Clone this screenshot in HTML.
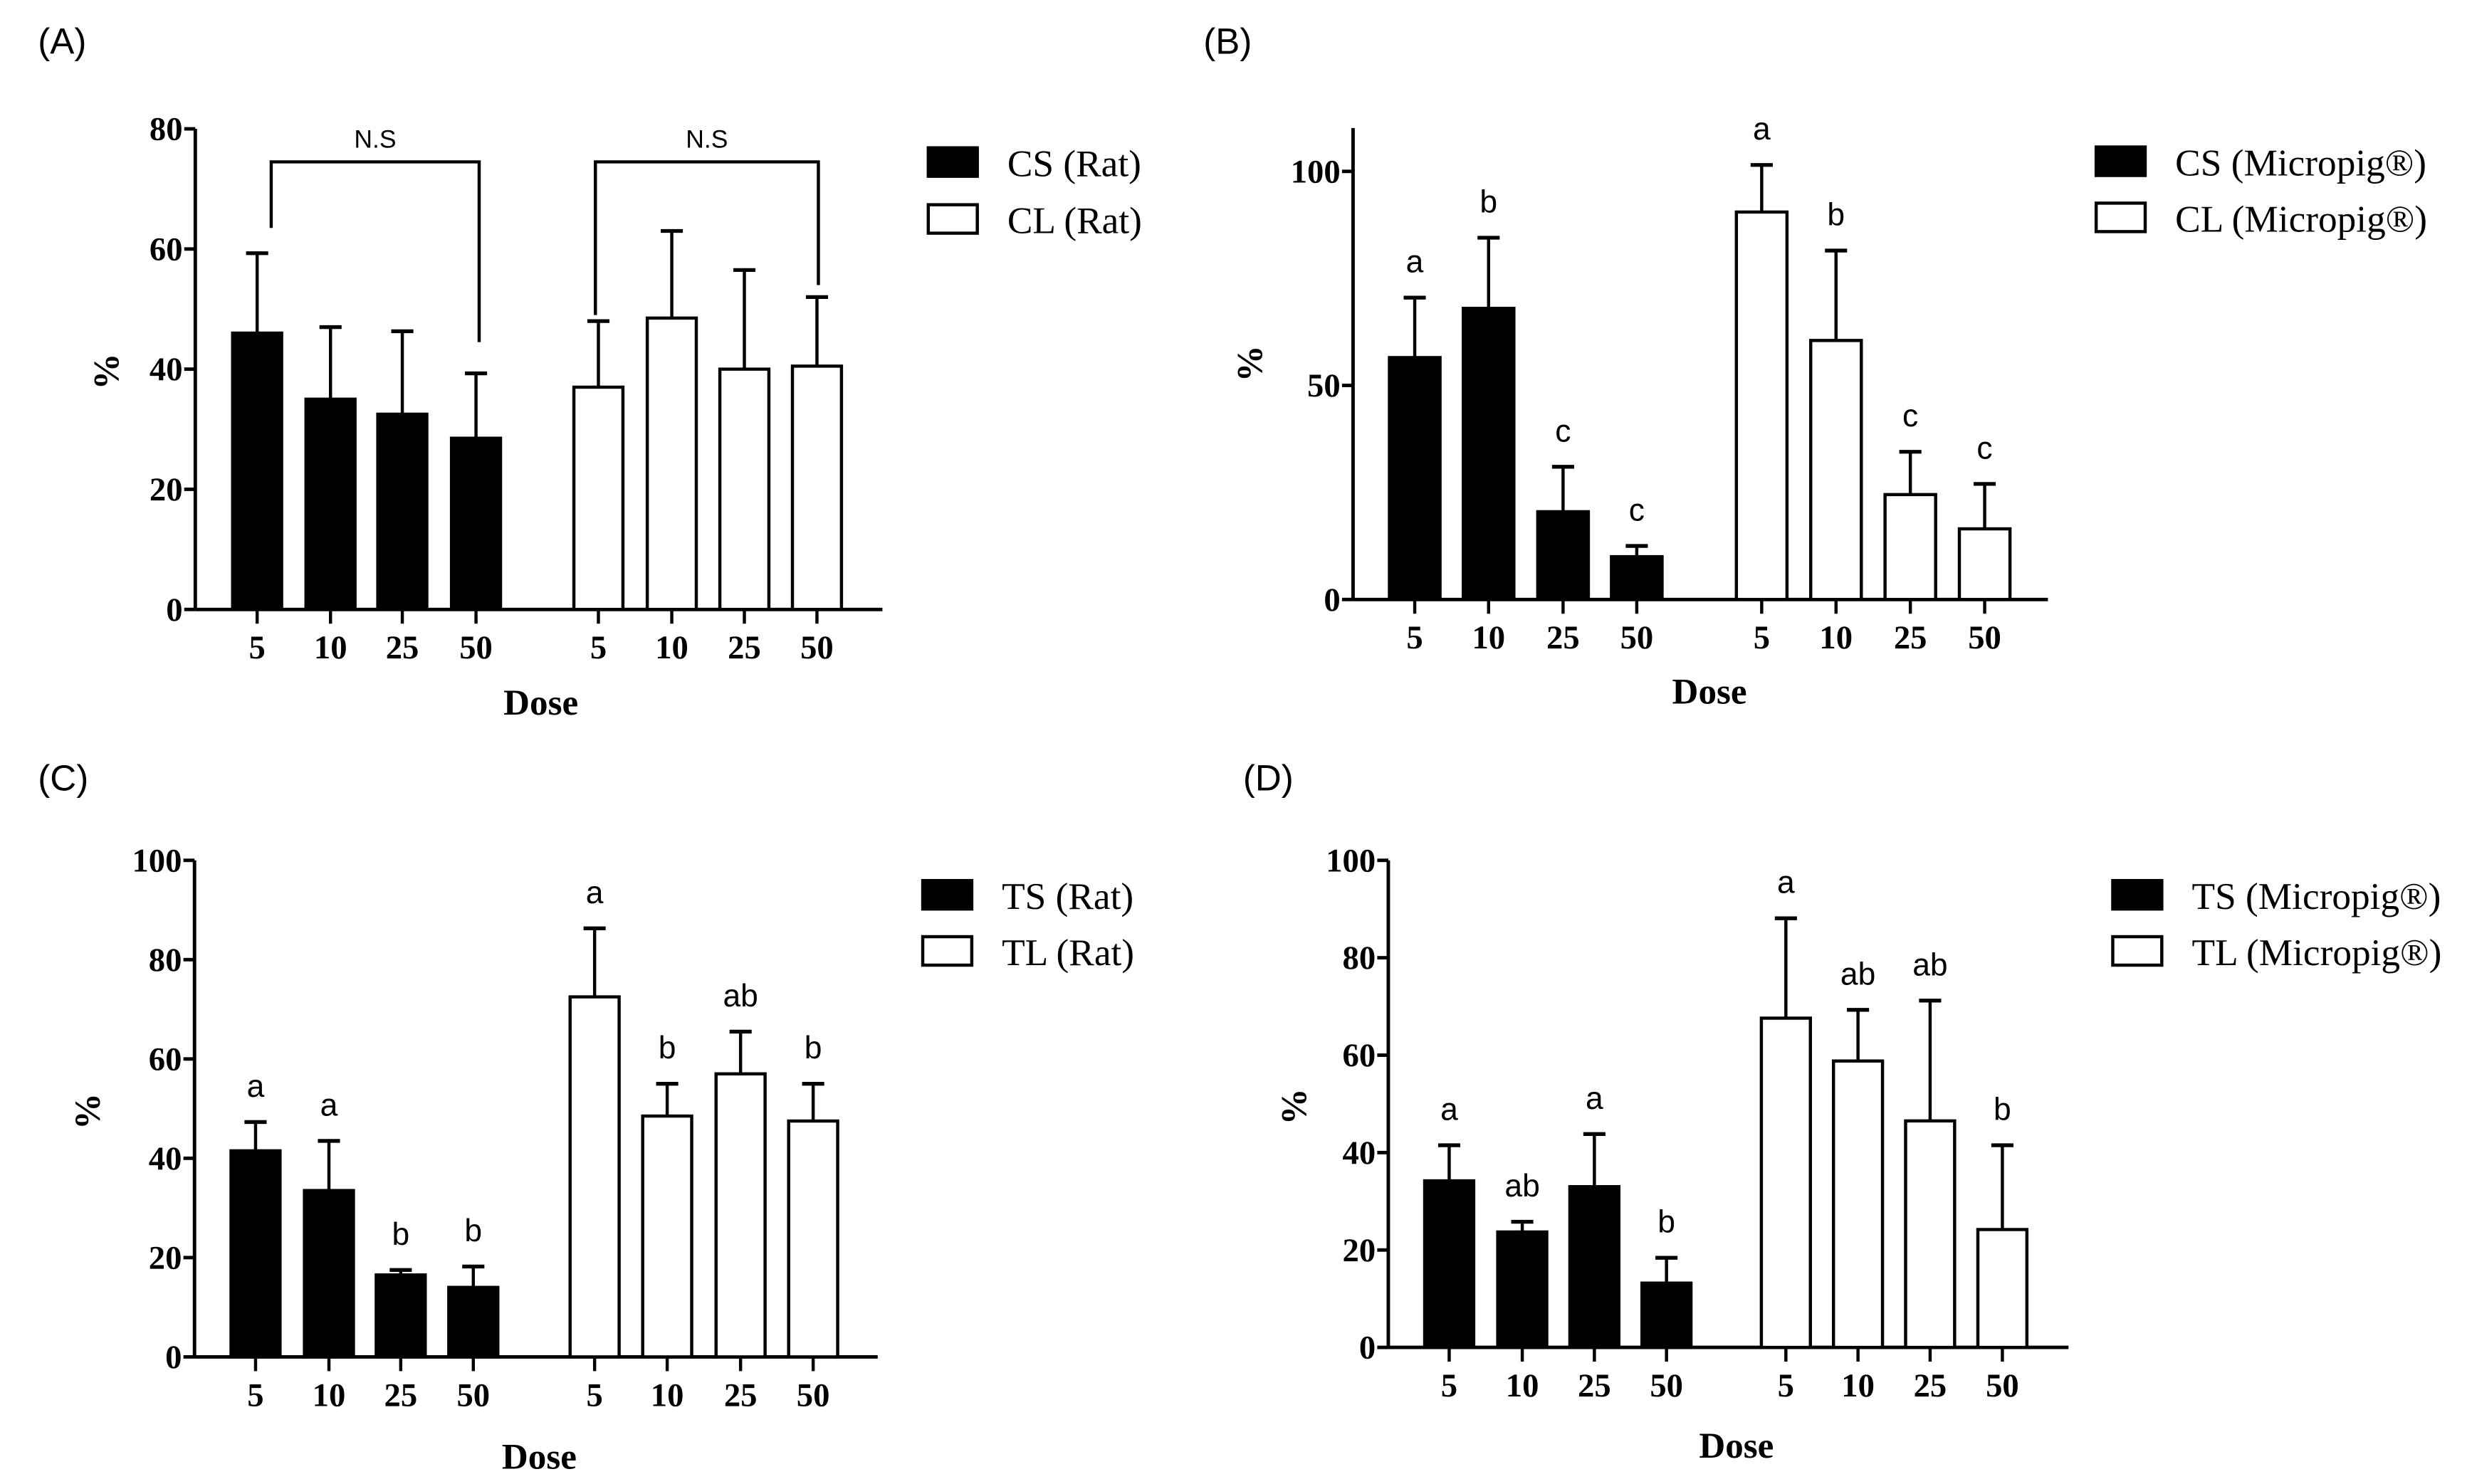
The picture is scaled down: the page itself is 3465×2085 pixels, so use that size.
<!DOCTYPE html>
<html><head><meta charset="utf-8"><style>
html,body{margin:0;padding:0;background:#fff;}
svg{display:block;}
</style></head><body>
<svg id="fig" width="3465" height="2085" viewBox="0 0 1560 938.7" preserveAspectRatio="none" xmlns="http://www.w3.org/2000/svg"></svg>
<script>
// Panel A data
const doses = ["5","10","25","50"];
const aSolid = [46, 35, 32.5, 28.5];
const aSolidErr = [59.3, 47, 46.3, 39.3];
const aOpen = [37, 48.5, 40, 40.5];
const aOpenErr = [48, 63, 56.5, 52];
const aTicks = [0, 20, 40, 60, 80];
// Panel B data
const bSolid = [56.5, 68, 20.5, 10];
const bSolidErr = [70.5, 84.5, 31, 12.5];
const bOpen = [90.5, 60.5, 24.5, 16.5];
const bOpenErr = [101.5, 81.5, 34.5, 27];
const bSolidLetters = ["a","b","c","c"];
const bOpenLetters = ["a","b","c","c"];
const bTicks = [0, 50, 100];
// Panel C data
const cSolid = [41.5, 33.5, 16.5, 14];
const cSolidErr = [47.3, 43.5, 17.5, 18.2];
const cOpen = [72.5, 48.5, 57, 47.5];
const cOpenErr = [86.3, 55, 65.5, 55];
const cSolidLetters = ["a","a","b","b"];
const cOpenLetters = ["a","b","ab","b"];
const cTicks = [0, 20, 40, 60, 80, 100];
// Panel D data
const dSolid = [34.2, 23.7, 33, 13.2];
const dSolidErr = [41.5, 25.8, 43.8, 18.4];
const dOpen = [67.6, 58.8, 46.5, 24.2];
const dOpenErr = [88.1, 69.3, 71.2, 41.5];
const dSolidLetters = ["a","ab","a","b"];
const dOpenLetters = ["a","ab","ab","b"];
const dTicks = [0, 20, 40, 60, 80, 100];

const NS = "http://www.w3.org/2000/svg";
const svg = document.getElementById('fig');
function mk(tag, attrs, parent){
  const e = document.createElementNS(NS, tag);
  for (const k in attrs) e.setAttribute(k, attrs[k]);
  (parent||svg).appendChild(e);
  return e;
}
const SERIF = '"Liberation Serif", serif';
const SANS = '"Liberation Sans", sans-serif';

function panel(cfg){
  const g = mk('g', {});
  
  
  const y = v => cfg.y0 - (v - cfg.ymin) / (cfg.ymax - cfg.ymin) * (cfg.y0 - cfg.yTop);
  const pl = mk('text', {x: cfg.lx, y: cfg.ly, 'font-family': SANS, 'font-size': 23, fill:'#000'}, g);
  pl.textContent = cfg.label;
  
  
  const ya = mk('line', {x1: cfg.ax, y1: cfg.axTop, x2: cfg.ax, y2: cfg.y0, stroke:'#000','stroke-width':2.2}, g);
  
  
  cfg.ticks.forEach(t => {
    const ty = y(t);
    mk('line', {x1: cfg.ax-7, y1: ty, x2: cfg.ax, y2: ty, stroke:'#000','stroke-width':2.2}, g);
    const tl = mk('text', {x: cfg.ax-8, y: ty+7, 'text-anchor':'end','font-family':SERIF,'font-weight':'bold','font-size':21, fill:'#000'}, g);
    tl.textContent = t;
    
    
  });
  const xa = mk('line', {x1: cfg.ax, y1: cfg.y0, x2: cfg.axEnd, y2: cfg.y0, stroke:'#000','stroke-width':2.2}, g);
  
  
  const yt = mk('text', {x: 0, y: 0, transform:`translate(${cfg.ytx},${cfg.yty}) rotate(-90)`, 'text-anchor':'middle','font-family':SERIF,'font-weight':'bold','font-size':23, fill:'#000'}, g);
  yt.textContent = '%';
  
  
  const xt = mk('text', {x: cfg.dx, y: cfg.dy, 'text-anchor':'middle','font-family':SERIF,'font-weight':'bold','font-size':23, fill:'#000'}, g);
  xt.textContent = 'Dose';
  
  
  const groups = [
    {vals: cfg.solid, errs: cfg.solidErr, xs: cfg.sx, fill:'#000', letters: cfg.sL},
    {vals: cfg.open, errs: cfg.openErr, xs: cfg.ox, fill:'#fff', letters: cfg.oL}
  ];
  groups.forEach((grp, gi) => {
    grp.vals.forEach((v, i) => {
      const cx = grp.xs[i];
      const top = y(v);
      const bw = cfg.bw;
      const eTop = y(grp.errs[i]);
      const el = mk('line', {x1: cx, y1: top, x2: cx, y2: eTop, stroke:'#000','stroke-width':2}, g);
      
      
      mk('line', {x1: cx-7, y1: eTop, x2: cx+7, y2: eTop, stroke:'#000','stroke-width':2.4}, g);
      const r = mk('rect', {x: cx-bw/2, y: top, width: bw, height: cfg.y0-top, fill: grp.fill, stroke:'#000','stroke-width':2}, g);
      
      
      mk('line', {x1: cx, y1: cfg.y0, x2: cx, y2: cfg.y0+9, stroke:'#000','stroke-width':2}, g);
      const xl = mk('text', {x: cx, y: cfg.y0+31, 'text-anchor':'middle','font-family':SERIF,'font-weight':'bold','font-size':21, fill:'#000'}, g);
      xl.textContent = doses[i];
      
      
      if (grp.letters){
        const lt = mk('text', {x: cx, y: eTop-16, 'text-anchor':'middle','font-family':SANS,'font-size':20, fill:'#000'}, g);
        lt.textContent = grp.letters[i];
        
        
      }
    });
  });
  (cfg.brackets||[]).forEach(b => {
    const by = y(b.top);
    const br = mk('polyline', {points: `${b.x1},${y(b.l)} ${b.x1},${by} ${b.x2},${by} ${b.x2},${y(b.r)}`, fill:'none', stroke:'#000','stroke-width':2}, g);
    
    
    const nt = mk('text', {x:(b.x1+b.x2)/2, y: by-9, 'text-anchor':'middle','font-family':SANS,'font-size':16, fill:'#000'}, g);
    nt.textContent = 'N.S';
    
    
  });
  cfg.legend.forEach((txt, i) => {
    const ly = cfg.legY[i];
    const sq = mk('rect', {x: cfg.legX, y: ly, width: 31, height: 18, fill: i===0?'#000':'#fff', stroke:'#000','stroke-width':2}, g);
    
    
    const lt = mk('text', {x: cfg.legX+50, y: ly+18, 'font-family':SERIF,'font-size':24, fill:'#000'}, g);
    lt.textContent = txt;
    
    
  });
}

panel({name:'panel-a', label:'(A)', lx:24, ly:34, ax:123.5, axTop:81.5, axEnd:558, y0:385.5, yTop:81.5, ymin:0, ymax:80, ticks:aTicks,
  ytx:75, yty:235, dx:342, dy:452, bw:31,
  sx:[162.6,209,254.4,301], ox:[378.4,424.8,470.7,516.6],
  solid:aSolid, solidErr:aSolidErr, open:aOpen, openErr:aOpenErr,
  brackets:[{x1:171.5,x2:303,top:74.5,l:63.5,r:44.5},{x1:376.5,x2:517.5,top:74.5,l:49,r:54}],
  legend:['CS (Rat)','CL (Rat)'], legX:587, legY:[93.5,129.5]});

panel({name:'panel-b', label:'(B)', lx:761, ly:34, ax:855.6, axTop:81, axEnd:1295, y0:379.2, yTop:108.4, ymin:0, ymax:100, ticks:bTicks,
  ytx:798, yty:230, dx:1081, dy:445, bw:32,
  sx:[894.6,941.3,988.4,1035], ox:[1114,1161,1208,1255],
  solid:bSolid, solidErr:bSolidErr, open:bOpen, openErr:bOpenErr, sL:bSolidLetters, oL:bOpenLetters,
  legend:['CS (Micropig\u00AE)','CL (Micropig\u00AE)'], legX:1325.5, legY:[93,128.5]});

panel({name:'panel-c', label:'(C)', lx:24, ly:500, ax:123, axTop:544.2, axEnd:555, y0:858.3, yTop:544.2, ymin:0, ymax:100, ticks:cTicks,
  ytx:63, yty:703, dx:341, dy:929, bw:31,
  sx:[161.6,208,253.4,299.3], ox:[376,421.9,468.3,514.2],
  solid:cSolid, solidErr:cSolidErr, open:cOpen, openErr:cOpenErr, sL:cSolidLetters, oL:cOpenLetters,
  legend:['TS (Rat)','TL (Rat)'], legX:583.5, legY:[557,592.5]});

panel({name:'panel-d', label:'(D)', lx:786, ly:500, ax:877.9, axTop:544.2, axEnd:1308, y0:852.3, yTop:544.2, ymin:0, ymax:100, ticks:dTicks,
  ytx:826, yty:700, dx:1098, dy:922, bw:31,
  sx:[916.4,962.6,1008.2,1053.8], ox:[1129.3,1174.9,1220.5,1266.2],
  solid:dSolid, solidErr:dSolidErr, open:dOpen, openErr:dOpenErr, sL:dSolidLetters, oL:dOpenLetters,
  legend:['TS (Micropig\u00AE)','TL (Micropig\u00AE)'], legX:1336, legY:[557,592.5]});
</script>
</body></html>
